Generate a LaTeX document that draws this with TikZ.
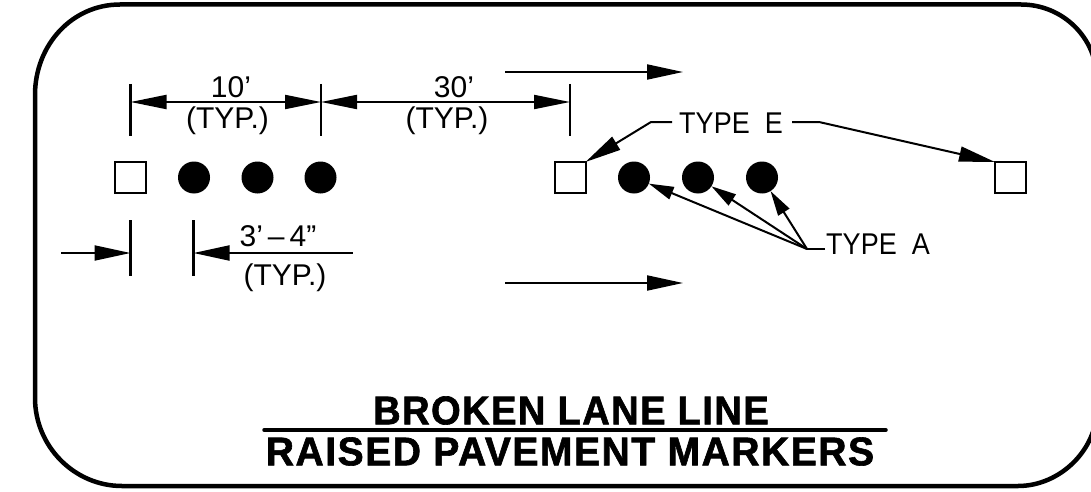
\documentclass[tikz,border=0pt]{standalone}
\usepackage{fontspec}
\setmainfont{Liberation Sans}
\newfontfamily\titlefont[BoldFeatures={FakeBold=1.6,LetterSpace=4}]{Liberation Sans}
\usetikzlibrary{arrows.meta,positioning}
\tikzset{
	dimline/.style={line width=2pt,{Triangle[length=36pt,width=14pt]}-{Triangle[length=36pt,width=14pt]}},
	leader/.style={line width=2pt,-{Triangle[length=36pt,width=15pt]}},
	shortleader/.style={line width=2pt,-{Triangle[length=25pt,width=13pt]}},
	tick/.style={line width=2.4pt},
	label/.style={font=\fontsize{30}{30}\selectfont,inner sep=0pt,outer sep=0pt},
	title/.style={font=\titlefont\bfseries\fontsize{40}{40}\selectfont,inner sep=0pt,outer sep=0pt},
	typeE/.style={draw,line width=2pt,minimum size=31pt,inner sep=0pt,outer sep=0pt},
	typeA/.style={circle,fill=black,minimum size=32pt,inner sep=0pt,outer sep=0pt}
}
\begin{document}
\begin{tikzpicture}[x=1pt,y=-1pt]
	\useasboundingbox (0,0) rectangle (1091,492);
	% frame
	\draw[line width=4.5pt] (120,4.5) -- (1021,4.5) .. controls (1063,4.5) and (1097,38) .. (1097,80)
	(1097,408) .. controls (1097,450) and (1060,486) .. (1018,486) -- (122,486)
	.. controls (74,486) and (35,446) .. (35,398) -- (35,95) .. controls (35,45) and (72,4.5) .. (120,4.5);
	% markers
	\node[typeE] (e1) at (130.5,177.5) {};
	\node[typeA] (a1) at (194,177.5) {};
	\node[typeA] (a2) at (257.5,177.5) {};
	\node[typeA] (a3) at (320.5,177.5) {};
	\node[typeE] (e2) at (570,177.5) {};
	\node[typeA] (a4) at (634,177.5) {};
	\node[typeA] (a5) at (698,177.5) {};
	\node[typeA] (a6) at (762,177.5) {};
	\node[typeE] (e3) at (1010.5,177.5) {};
	% dimension ticks
	\coordinate (t1a) at (130.5,84);
	\coordinate (t1b) at (130.5,136);
	\coordinate (t2a) at (321,84);
	\coordinate (t2b) at (321,136);
	\coordinate (t3a) at (570,84);
	\coordinate (t3b) at (570,136);
	\coordinate (d1) at (130.5,102);
	\coordinate (d2) at (321,102);
	\coordinate (d3) at (570,102);
	\draw[tick] (t1a) -- (t1b);
	\draw[tick] (t2a) -- (t2b);
	\draw[tick] (t3a) -- (t3b);
	\draw[dimline] (d1) -- (d2);
	\draw[dimline] (d2) -- (d3);
	\node[label] (ten) at (231,87) {10'};
	\node[label] (tenn) at (227.5,121) {(TYP.)};
	\node[label] (thirty) at (454,87) {30'};
	\node[label] (thirtyn) at (447,121) {(TYP.)};
	% lower dimension
	\coordinate (t4a) at (130.5,220);
	\coordinate (t4b) at (130.5,276);
	\coordinate (t5a) at (193.5,220);
	\coordinate (t5b) at (193.5,276);
	\coordinate (l1) at (61,253);
	\coordinate (l2) at (130.5,253);
	\coordinate (l3) at (352.5,253);
	\coordinate (l4) at (193.5,253);
	\draw[tick] (t4a) -- (t4b);
	\draw[tick] (t5a) -- (t5b);
	\draw[leader] (l1) -- (l2);
	\draw[leader] (l3) -- (l4);
	\node[label] (three) at (278,236) {3'\,--\,4"};
	\node[label] (threen) at (285,278) {(TYP.)};
	% direction of travel
	\coordinate (r1a) at (505,72);
	\coordinate (r1b) at (683,72);
	\coordinate (r2a) at (505,283);
	\coordinate (r2b) at (683,283);
	\draw[leader] (r1a) -- (r1b);
	\draw[leader] (r2a) -- (r2b);
	% callouts
	\node[label] (typee) at (731,123) {\scalebox{.9}[1]{TYPE\ \ E}};
	\node[label] (typea) at (878,244) {\scalebox{.9}[1]{TYPE\ \ A}};
	\coordinate (ea) at (672,122);
	\coordinate (eb) at (651,122);
	\coordinate (ec) at (792,122);
	\coordinate (ed) at (819,122);
	\coordinate (aj) at (807,249);
	\coordinate (ak) at (825,249);
	\draw[leader] (ea) -- (eb) -- (e2.north east);
	\draw[leader] (ec) -- (ed) -- (e3.north west);
	\draw[line width=2pt] (ak) -- (aj);
	\draw[shortleader] (aj) -- (a4);
	\draw[shortleader] (aj) -- (a5);
	\draw[shortleader] (aj) -- (a6);
	% title
	\node[title] (broken) at (571,410.5) {\scalebox{.95}[1]{BROKEN LANE LINE}};
	\node[title] (raised) at (570,451.5) {\scalebox{.975}[1]{RAISED PAVEMENT MARKERS}};
	\coordinate (ua) at (264,430);
	\coordinate (ub) at (886,430);
	\draw[line width=3.5pt,line cap=round] (ua) -- (ub);
\end{tikzpicture}
\end{document}
